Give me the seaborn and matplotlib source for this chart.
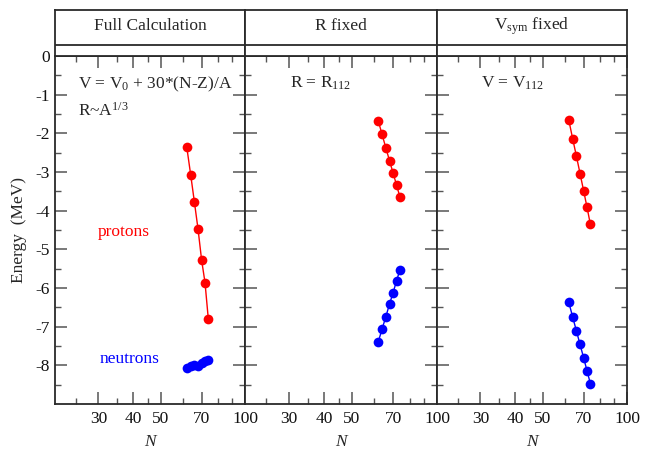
import matplotlib
matplotlib.use("Agg")
import matplotlib.pyplot as plt
import matplotlib.ticker as mticker
import seaborn as sns
import pandas as pd

# ---- data ----
N = [62, 64, 66, 68, 70, 72, 74]
full_protons = [-2.36, -3.07, -3.78, -4.48, -5.27, -5.86, -6.81]
full_neutrons = [-8.07, -8.03, -7.99, -8.01, -7.94, -7.90, -7.86]
rfix_protons = [-1.67, -2.03, -2.38, -2.71, -3.03, -3.34, -3.65]
rfix_neutrons = [-7.40, -7.06, -6.74, -6.41, -6.12, -5.81, -5.53]
vfix_protons = [-1.66, -2.14, -2.59, -3.04, -3.48, -3.91, -4.35]
vfix_neutrons = [-6.37, -6.75, -7.11, -7.46, -7.80, -8.14, -8.47]

titles = ["Full Calculation", "R fixed", r"V$_{\mathrm{sym}}$ fixed"]
x_major = [30, 40, 50, 70, 100]
x_minor = [25, 35, 45, 60, 80, 90]
x_labels = ["30", "40", "50", "70", "100"]
y_major = [0, -1, -2, -3, -4, -5, -6, -7, -8]
y_labels = ["0", "-1", "-2", "-3", "-4", "-5", "-6", "-7", "-8"]

sns.set_theme(style="ticks")
plt.rcParams["font.family"] = ["Liberation Serif", "DejaVu Serif"]
plt.rcParams["mathtext.fontset"] = "custom"
plt.rcParams["mathtext.rm"] = "Liberation Serif"
plt.rcParams["mathtext.it"] = "Liberation Serif:italic"
plt.rcParams["axes.unicode_minus"] = False

W, H = 654, 450
fig = plt.figure(figsize=(W / 100, H / 100), dpi=100)

panel_x = [(55, 245), (245, 437), (437, 627)]
plot_top, plot_bot = 56, 404
head_top = 10
edge = "#2a2a2a"
tickc = "#555555"
fs = 12.5

series = [
    (full_protons, full_neutrons),
    (rfix_protons, rfix_neutrons),
    (vfix_protons, vfix_neutrons),
]

axes = []
for i, ((x0, x1), (pr, ne)) in enumerate(zip(panel_x, series)):
    ax = fig.add_axes([x0 / W, 1 - plot_bot / H, (x1 - x0) / W, (plot_bot - plot_top) / H])
    axes.append(ax)
    df = pd.DataFrame({"N": N + N,
                       "E": pr + ne,
                       "kind": ["p"] * len(N) + ["n"] * len(N)})
    sns.lineplot(data=df, x="N", y="E", hue="kind", palette={"p": "#ff0000", "n": "#0000ff"},
                 marker="o", markersize=7, markeredgewidth=0, linewidth=1.0,
                 ax=ax, legend=False, sort=False, estimator=None)
    ax.set_xscale("log")
    ax.set_xlim(21, 100)
    ax.set_ylim(-9, 0)
    ax.xaxis.set_major_locator(mticker.FixedLocator(x_major))
    ax.xaxis.set_major_formatter(mticker.FixedFormatter(x_labels))
    ax.xaxis.set_minor_locator(mticker.FixedLocator(x_minor))
    ax.xaxis.set_minor_formatter(mticker.NullFormatter())
    ax.yaxis.set_major_locator(mticker.FixedLocator(y_major))
    ax.yaxis.set_minor_locator(mticker.FixedLocator([v - 0.5 for v in y_major]))
    if i == 0:
        ax.yaxis.set_major_formatter(mticker.FixedFormatter(y_labels))
        ax.set_ylabel("Energy  (MeV)", fontsize=fs, labelpad=6)
    else:
        ax.yaxis.set_major_formatter(mticker.NullFormatter())
        ax.set_ylabel("")
    ax.yaxis.set_minor_formatter(mticker.NullFormatter())
    ax.tick_params(which="both", direction="in", top=True, right=True, colors=tickc,
                   labelcolor="#111111", labelsize=fs)
    ax.tick_params(which="major", length=8.5, width=1.1)
    ax.tick_params(which="minor", length=4, width=1.0)
    ax.tick_params(axis="x", pad=5)
    ax.set_xlabel("N", fontsize=fs, style="italic", labelpad=5)
    for s in ax.spines.values():
        s.set_color(edge)
        s.set_linewidth(1.3)

    # header box
    hax = fig.add_axes([x0 / W, 1 - plot_top / H, (x1 - x0) / W, (plot_top - head_top) / H])
    hax.set_xlim(0, 1)
    hax.set_ylim(0, 1)
    hax.set_xticks([])
    hax.set_yticks([])
    for s in hax.spines.values():
        s.set_color(edge)
        s.set_linewidth(1.3)
    hax.axhline((plot_top - 45) / (plot_top - head_top), color=edge, linewidth=1.3)
    hax.text(0.5, (plot_top - 26) / (plot_top - head_top), titles[i], ha="center",
             va="center", fontsize=fs)

a0, a1, a2 = axes
a0.text(0.121, 0.908, r"V = V$_{\mathrm{0}}$ + 30*(N-Z)/A", transform=a0.transAxes,
        fontsize=fs, va="baseline")
a0.text(0.121, 0.828, r"R~A$^{\mathrm{1/3}}$", transform=a0.transAxes,
        fontsize=fs, va="baseline")
a0.text(0.226, 0.483, "protons", transform=a0.transAxes, fontsize=fs, color="#ff0000",
        va="baseline")
a0.text(0.232, 0.119, "neutrons", transform=a0.transAxes, fontsize=fs, color="#0000ff",
        va="baseline")
a1.text(0.234, 0.908, r"R = R$_{\mathrm{112}}$", transform=a1.transAxes, fontsize=fs,
        va="baseline")
a2.text(0.232, 0.908, r"V = V$_{\mathrm{112}}$", transform=a2.transAxes, fontsize=fs,
        va="baseline")

fig.savefig("out.png", dpi=100)
